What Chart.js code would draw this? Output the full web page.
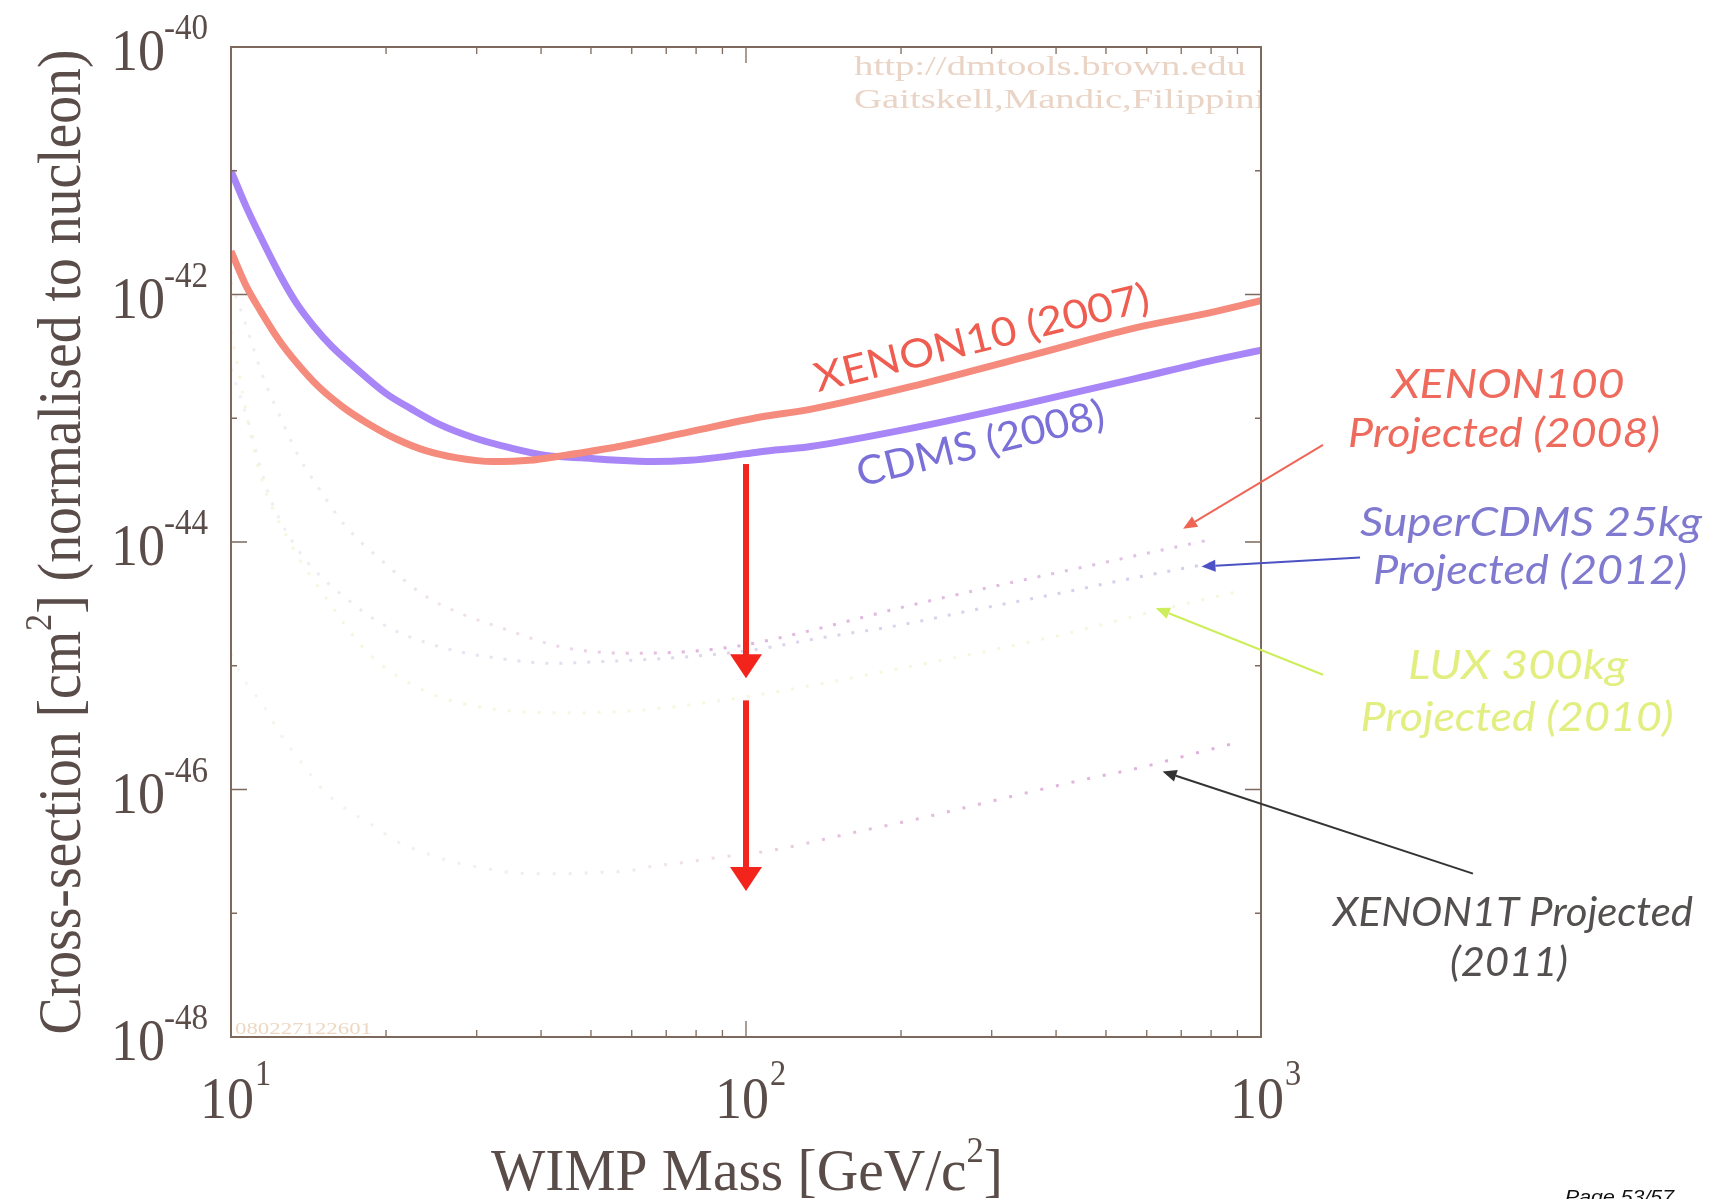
<!DOCTYPE html>
<html>
<head>
<meta charset="utf-8">
<script src="https://cdn.jsdelivr.net/npm/chart.js@4.4.1/dist/chart.umd.min.js"></script>
<style>
  html, body { margin: 0; padding: 0; background: #ffffff; overflow: hidden; }
  canvas { display: block; }
</style>
</head>
<body>
<canvas id="limits" width="1727" height="1199"></canvas>
<script>
// WIMP mass (GeV/c^2) and log10 of the spin-independent cross-section (cm^2)
const xenon10Mass = [10, 10.7, 11.4, 12.4, 13.4, 14.75, 16.5, 18.4, 21, 23.8, 27.5, 32.2, 37.9, 44.4, 56.3, 77.6, 106.7, 132.5, 216, 352, 570, 790, 1000];
const xenon10LogSigma = [-41.65, -41.93, -42.13, -42.37, -42.55, -42.74, -42.91, -43.04, -43.17, -43.26, -43.32, -43.35, -43.34, -43.30, -43.23, -43.11, -42.99, -42.93, -42.73, -42.50, -42.27, -42.15, -42.05];

const cdmsMass = [10, 10.7, 11.4, 12.4, 13.4, 14.5, 15.7, 17.3, 20, 22.3, 25.4, 29.7, 34.9, 40.9, 48, 56.3, 66, 77.6, 91, 106.7, 132.5, 216, 352, 570, 790, 1000];
const cdmsLogSigma = [-41.0, -41.29, -41.53, -41.83, -42.07, -42.26, -42.42, -42.58, -42.80, -42.92, -43.05, -43.16, -43.24, -43.30, -43.32, -43.34, -43.35, -43.34, -43.31, -43.27, -43.23, -43.07, -42.88, -42.68, -42.54, -42.45];

// projected sensitivities
const xenon100Mass = [10, 10.7, 11.5, 12.5, 13.5, 15, 16.6, 20, 23.7, 28, 33.3, 44, 60, 80, 100, 132, 200, 280, 400, 587, 800];
const xenon100LogSigma = [-41.9, -42.25, -42.65, -43.0, -43.3, -43.6, -43.86, -44.18, -44.43, -44.58, -44.69, -44.85, -44.9, -44.88, -44.83, -44.72, -44.53, -44.39, -44.25, -44.10, -43.98];

const superCdmsMass = [10, 10.8, 11.5, 12, 13.7, 16.9, 19.8, 25.6, 34.4, 42, 50, 70, 100, 142, 200, 276, 400, 536, 800];
const superCdmsLogSigma = [-42.6, -43.03, -43.45, -43.68, -44.10, -44.47, -44.67, -44.85, -44.95, -44.98, -44.97, -44.94, -44.88, -44.77, -44.67, -44.55, -44.42, -44.31, -44.17];

const luxMass = [10, 11.3, 13, 15, 18.5, 23.7, 30, 45, 62, 100, 200, 400, 620, 900];
const luxLogSigma = [-42.3, -43.4, -44.0, -44.4, -44.9, -45.2, -45.33, -45.38, -45.36, -45.25, -45.02, -44.76, -44.56, -44.4];

const xenon1tMass = [10, 10.6, 11.6, 12.5, 13.7, 14.9, 16.6, 18.7, 21, 23.7, 26.7, 30.5, 34.8, 39.2, 45, 51, 58.4, 66, 75.6, 84.5, 113, 165, 214, 310, 453, 587, 757, 900];
const xenon1tLogSigma = [-44.9, -45.11, -45.33, -45.56, -45.78, -45.98, -46.15, -46.28, -46.42, -46.51, -46.58, -46.63, -46.67, -46.68, -46.68, -46.67, -46.66, -46.62, -46.59, -46.56, -46.49, -46.34, -46.24, -46.08, -45.92, -45.82, -45.70, -45.62];

// tick decades
const massDecades = [1, 2, 3];
const sigmaDecades = [-40, -42, -44, -46, -48];

// improvement arrows at 100 GeV: [start, tip] in log10 sigma
const stepMass = 100;
const stepArrows = [[-43.37, -45.10], [-45.28, -46.82]];

// callouts: tail and tip as [mass, log10 sigma]
const callouts = [
  { color: '#ef6656', tail: [1319.5, -43.215], tip: [705.8, -43.893] },
  { color: '#4c52c4', tail: [1557, -44.125], tip: [766.3, -44.198] },
  { color: '#cdee5a', tail: [1319.5, -45.073], tip: [624.7, -44.534] },
  { color: '#333333', tail: [2580, -46.68], tip: [644, -45.854] }
];

const pts = (ms, ls) => ms.map((m, i) => ({ x: m, y: Math.pow(10, ls[i]) }));

function drawRun(ctx, segs, x, y, opt) {
  let w = 0;
  const widths = segs.map(s => { ctx.font = s.f; const m = ctx.measureText(s.t).width; w += m; return m; });
  const sx = opt.width ? opt.width / w : (opt.sx || 1);
  const total = w * sx;
  const x0 = opt.align === 'center' ? -total / 2 : (opt.align === 'right' ? -total : 0);
  ctx.save();
  ctx.translate(x, y);
  if (opt.rot) ctx.rotate(opt.rot);
  ctx.translate(x0, 0);
  ctx.scale(sx, 1);
  ctx.textAlign = 'left';
  ctx.textBaseline = 'alphabetic';
  let cx = 0;
  segs.forEach((s, i) => {
    ctx.font = s.f;
    if (s.c) ctx.fillStyle = s.c;
    ctx.fillText(s.t, cx, s.dy || 0);
    cx += widths[i];
  });
  ctx.restore();
  return sx;
}

function arrowLine(ctx, x1, y1, x2, y2, color, lw, hl, hw) {
  const ang = Math.atan2(y2 - y1, x2 - x1);
  const bx = x2 - Math.cos(ang) * hl, by = y2 - Math.sin(ang) * hl;
  ctx.save();
  ctx.strokeStyle = color; ctx.fillStyle = color; ctx.lineWidth = lw;
  ctx.beginPath(); ctx.moveTo(x1, y1); ctx.lineTo(bx, by); ctx.stroke();
  ctx.beginPath();
  ctx.moveTo(x2, y2);
  ctx.lineTo(bx + Math.sin(ang) * hw, by - Math.cos(ang) * hw);
  ctx.lineTo(bx - Math.sin(ang) * hw, by + Math.cos(ang) * hw);
  ctx.closePath(); ctx.fill();
  ctx.restore();
}

const SERIF = '"Liberation Serif", "DejaVu Serif", serif';
const GILL = 'Lato, "Open Sans", sans-serif';

const decor = {
  id: 'decor',
  beforeDatasetsDraw(chart) {
    const { ctx, chartArea: a } = chart;
    ctx.save();
    ctx.beginPath();
    ctx.rect(a.left, a.top, a.right - a.left, a.bottom - a.top);
    ctx.clip();
    ctx.fillStyle = '#ead4c6';
    const sx = drawRun(ctx, [{ t: 'http://dmtools.brown.edu', f: '28px ' + SERIF }], a.left + 623, a.top + 28, { width: 392 });
    drawRun(ctx, [{ t: 'Gaitskell,Mandic,Filippini', f: '28px ' + SERIF }], a.left + 623, a.top + 61, { sx: sx });
    ctx.fillStyle = '#ecd8c4';
    drawRun(ctx, [{ t: '080227122601', f: '16px ' + SERIF }], a.left + 4, a.bottom - 3, { width: 137 });
    ctx.restore();
  },
  afterDatasetsDraw(chart) {
    const { ctx, chartArea: a, scales } = chart;
    const xs = scales.x, ys = scales.y;
    const X = m => xs.getPixelForValue(m);
    const Y = l => ys.getPixelForValue(Math.pow(10, l));

    // frame
    ctx.save();
    ctx.strokeStyle = '#7e6a5c';
    ctx.lineWidth = 2;
    ctx.strokeRect(a.left, a.top, a.right - a.left, a.bottom - a.top);
    ctx.lineWidth = 1.3;
    ctx.beginPath();
    [10, 100].forEach(d => {
      for (let k = 2; k <= 9; k++) {
        const px = X(k * d);
        ctx.moveTo(px, a.bottom); ctx.lineTo(px, a.bottom - 7);
        ctx.moveTo(px, a.top); ctx.lineTo(px, a.top + 7);
      }
    });
    const p100 = X(100);
    ctx.moveTo(p100, a.bottom); ctx.lineTo(p100, a.bottom - 16);
    ctx.moveTo(p100, a.top); ctx.lineTo(p100, a.top + 16);
    for (let e = -47; e <= -41; e++) {
      const py = Y(e);
      const len = (e % 2 === 0) ? 16 : 6;
      ctx.moveTo(a.left, py); ctx.lineTo(a.left + len, py);
      ctx.moveTo(a.right, py); ctx.lineTo(a.right - len, py);
    }
    ctx.stroke();
    ctx.restore();

    // improvement arrows
    ctx.save();
    ctx.fillStyle = '#f3241c';
    stepArrows.forEach(([s, t]) => {
      const px = X(stepMass), y1 = Y(s), y2 = Y(t);
      ctx.fillRect(px - 3, y1, 6, y2 - y1 - 20);
      ctx.beginPath();
      ctx.moveTo(px - 16, y2 - 24);
      ctx.lineTo(px + 16, y2 - 24);
      ctx.lineTo(px, y2);
      ctx.closePath();
      ctx.fill();
    });
    ctx.restore();
  },
  afterDraw(chart) {
    const { ctx, chartArea: a, scales } = chart;
    const xs = scales.x, ys = scales.y;
    const X = m => xs.getPixelForValue(m);
    const Y = l => ys.getPixelForValue(Math.pow(10, l));

    // axis tick labels
    ctx.save();
    ctx.fillStyle = '#5a4c48';
    massDecades.forEach(e => {
      const px = X(Math.pow(10, e));
      ctx.font = '60px ' + SERIF;
      const w10 = ctx.measureText('10').width * 0.9;
      drawRun(ctx, [{ t: '10', f: '60px ' + SERIF }], px - 4 - w10 / 2, a.bottom + 81, { sx: 0.9 });
      drawRun(ctx, [{ t: String(e), f: '36px ' + SERIF }], px - 4 + w10 / 2 + 1, a.bottom + 48, { sx: 0.9 });
    });
    sigmaDecades.forEach(e => {
      const py = Y(e);
      drawRun(ctx, [{ t: '10', f: '60px ' + SERIF }], a.left - 120, py + 23, { sx: 0.9 });
      drawRun(ctx, [{ t: String(e), f: '36px ' + SERIF }], a.left - 67, py - 8, { sx: 0.92 });
    });

    // axis titles
    drawRun(ctx, [
      { t: 'WIMP Mass [GeV/c', f: '60px ' + SERIF },
      { t: '2', f: '36px ' + SERIF, dy: -28 },
      { t: ']', f: '60px ' + SERIF }
    ], (a.left + a.right) / 2 + 1, 1190, { width: 512, align: 'center' });
    drawRun(ctx, [
      { t: 'Cross-section [cm', f: '62px ' + SERIF },
      { t: '2', f: '38px ' + SERIF, dy: -29 },
      { t: '] (normalised to nucleon)', f: '62px ' + SERIF }
    ], 80, (a.top + a.bottom) / 2, { width: 985, align: 'center', rot: -Math.PI / 2 });
    ctx.restore();

    // curve labels
    ctx.save();
    const rot = -13.8 * Math.PI / 180;
    ctx.fillStyle = '#ef5c50';
    drawRun(ctx, [{ t: 'XENON10 (2007)', f: '40px ' + GILL }], X(291.1), Y(-42.456), { width: 344, align: 'center', rot: rot });
    ctx.fillStyle = '#7a70d8';
    drawRun(ctx, [{ t: 'CDMS (2008)', f: '40px ' + GILL }], X(289.2), Y(-43.309), { width: 254, align: 'center', rot: rot });
    ctx.restore();

    // callout arrows
    callouts.forEach(c => {
      arrowLine(ctx, X(c.tail[0]), Y(c.tail[1]), X(c.tip[0]), Y(c.tip[1]), c.color, 2, 14, 6);
    });

    // callout texts
    ctx.save();
    const IT = 'italic 40px ' + GILL;
    ctx.fillStyle = '#ee6a5c';
    drawRun(ctx, [{ t: 'XENON100', f: IT }], 1508, 398, { width: 233, align: 'center' });
    drawRun(ctx, [{ t: 'Projected (2008)', f: IT }], 1504, 447, { width: 312, align: 'center' });
    ctx.fillStyle = '#7f7ad0';
    drawRun(ctx, [{ t: 'SuperCDMS 25kg', f: IT }], 1531, 536, { width: 342, align: 'center' });
    drawRun(ctx, [{ t: 'Projected (2012)', f: IT }], 1530, 584, { width: 314, align: 'center' });
    ctx.fillStyle = '#e2ef80';
    drawRun(ctx, [{ t: 'LUX 300kg', f: IT }], 1518, 679, { width: 220, align: 'center' });
    drawRun(ctx, [{ t: 'Projected (2010)', f: IT }], 1517, 731, { width: 313, align: 'center' });
    ctx.fillStyle = '#555050';
    drawRun(ctx, [{ t: 'XENON1T Projected', f: IT }], 1513, 926, { width: 360, align: 'center' });
    drawRun(ctx, [{ t: '(2011)', f: IT }], 1509, 976, { width: 118, align: 'center' });
    ctx.fillStyle = '#111111';
    drawRun(ctx, [{ t: 'Page 53/57', f: 'italic 19px "Liberation Sans", Arial, sans-serif' }], 1565, 1203, { width: 109 });
    ctx.restore();
  }
};

function faintGradient(stops) {
  return (c) => {
    const area = c.chart.chartArea;
    if (!area) return stops[0][1];
    const g = c.chart.ctx.createLinearGradient(area.left, 0, area.right, 0);
    stops.forEach(([p, col]) => g.addColorStop(p, col));
    return g;
  };
}

const base = { pointRadius: 0, pointHoverRadius: 0, fill: false, cubicInterpolationMode: 'monotone' };

new Chart(document.getElementById('limits'), {
  type: 'line',
  data: {
    datasets: [
      Object.assign({}, base, {
        label: 'XENON1T Projected (2011)', data: pts(xenon1tMass, xenon1tLogSigma),
        borderColor: faintGradient([[0, 'rgba(242,238,222,0.6)'], [0.4, 'rgba(238,222,222,0.7)'], [0.6, 'rgba(222,175,212,0.8)'], [1, 'rgba(214,150,210,0.8)']]),
        borderWidth: 3, borderDash: [3, 13]
      }),
      Object.assign({}, base, {
        label: 'LUX 300kg Projected (2010)', data: pts(luxMass, luxLogSigma),
        borderColor: 'rgba(244,242,208,0.7)', borderWidth: 3, borderDash: [3, 12]
      }),
      Object.assign({}, base, {
        label: 'SuperCDMS 25kg Projected (2012)', data: pts(superCdmsMass, superCdmsLogSigma),
        borderColor: faintGradient([[0, 'rgba(234,230,234,0.6)'], [0.45, 'rgba(210,196,228,0.7)'], [1, 'rgba(198,180,230,0.7)']]),
        borderWidth: 3, borderDash: [3, 11]
      }),
      Object.assign({}, base, {
        label: 'XENON100 Projected (2008)', data: pts(xenon100Mass, xenon100LogSigma),
        borderColor: faintGradient([[0, 'rgba(232,226,230,0.6)'], [0.3, 'rgba(230,205,225,0.7)'], [0.45, 'rgba(220,165,215,0.85)'], [1, 'rgba(212,172,222,0.7)']]),
        borderWidth: 3, borderDash: [3, 11]
      }),
      Object.assign({}, base, {
        label: 'XENON10 (2007)', data: pts(xenon10Mass, xenon10LogSigma),
        borderColor: '#f58b7d', borderWidth: 7
      }),
      Object.assign({}, base, {
        label: 'CDMS (2008)', data: pts(cdmsMass, cdmsLogSigma),
        borderColor: '#a986f7', borderWidth: 7
      })
    ]
  },
  options: {
    responsive: false,
    animation: false,
    devicePixelRatio: 1,
    events: [],
    layout: { padding: { left: 231, right: 466, top: 47, bottom: 162 } },
    plugins: { legend: { display: false }, tooltip: { enabled: false }, title: { display: false } },
    scales: {
      x: {
        type: 'logarithmic', min: 10, max: 1000,
        ticks: { display: false }, grid: { display: false }, border: { display: false },
        afterFit: s => { s.height = 0; }
      },
      y: {
        type: 'logarithmic', min: 1e-48, max: 1e-40,
        ticks: { display: false }, grid: { display: false }, border: { display: false },
        afterFit: s => { s.width = 0; }
      }
    }
  },
  plugins: [decor]
});
</script>
</body>
</html>
